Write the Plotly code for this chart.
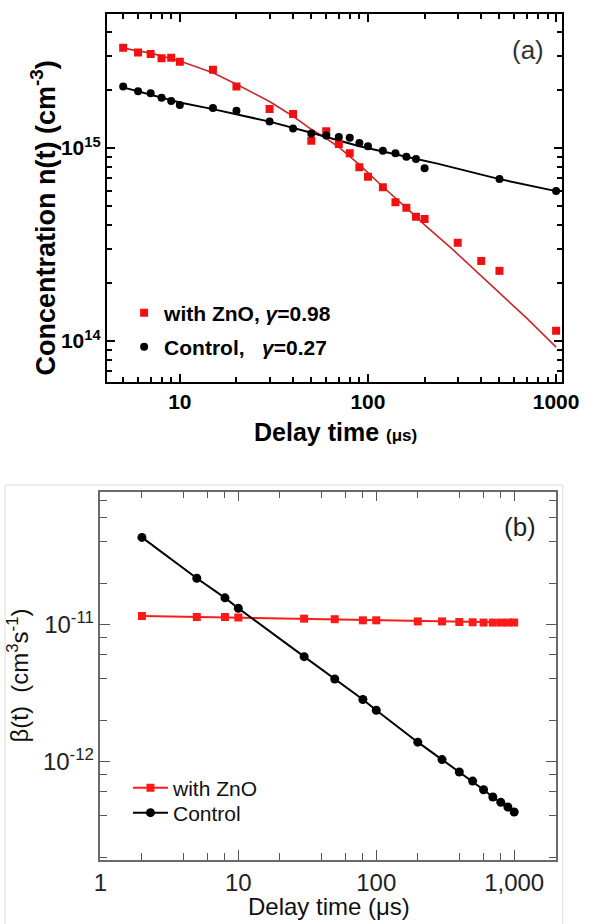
import plotly.graph_objects as go

# ---------------- Panel (a) data ----------------
t_zno_a = [5, 6, 7, 8, 9, 10, 15, 20, 30, 40, 50, 60, 70, 80, 90, 100, 120, 140, 160, 180, 200, 300, 400, 500, 1000]
n_zno_a = [3.31e15, 3.12e15, 3.07e15, 2.92e15, 2.93e15, 2.80e15, 2.54e15, 2.08e15, 1.59e15, 1.50e15, 1.09e15,
           1.22e15, 1.05e15, 9.38e14, 7.94e14, 7.10e14, 6.26e14, 5.24e14, 4.91e14, 4.41e14, 4.29e14, 3.23e14,
           2.60e14, 2.31e14, 1.13e14]
t_ctrl_a = [5, 6, 7, 8, 9, 10, 15, 20, 30, 40, 50, 60, 70, 80, 90, 100, 120, 140, 160, 180, 200, 500, 1000]
n_ctrl_a = [2.08e15, 1.97e15, 1.92e15, 1.82e15, 1.75e15, 1.67e15, 1.61e15, 1.56e15, 1.37e15, 1.26e15, 1.19e15,
            1.16e15, 1.14e15, 1.13e15, 1.06e15, 1.02e15, 9.68e14, 9.38e14, 9.01e14, 8.77e14, 7.85e14, 6.91e14,
            5.98e14]
# fitted curves
t_zno_fit = [5, 7, 10, 15, 20, 30, 40, 50, 60, 70, 90, 120, 160, 200, 280, 460, 700, 1000]
n_zno_fit = [3.29e15, 3.10e15, 2.82e15, 2.45e15, 2.14e15, 1.74e15, 1.46e15, 1.25e15, 1.12e15, 1.01e15, 8.2e14,
             6.3e14, 4.9e14, 4.0e14, 3.0e14, 1.91e14, 1.31e14, 9.3e13]
t_ctrl_fit = [5, 10, 15, 30, 50, 90, 160, 234, 500, 1000]
n_ctrl_fit = [2.06e15, 1.72e15, 1.59e15, 1.37e15, 1.20e15, 1.02e15, 9.0e14, 8.3e14, 6.9e14, 5.98e14]

# ---------------- Panel (b) data ----------------
t_b = [2, 5, 8, 10, 30, 50, 80, 100, 200, 300, 400, 500, 600, 700, 800, 900, 1000]
beta_zno = [1.15e-11, 1.13e-11, 1.13e-11, 1.12e-11, 1.10e-11, 1.09e-11, 1.07e-11, 1.07e-11, 1.05e-11, 1.05e-11,
            1.04e-11, 1.035e-11, 1.03e-11, 1.03e-11, 1.03e-11, 1.03e-11, 1.03e-11]
beta_ctrl = [4.31e-11, 2.17e-11, 1.56e-11, 1.31e-11, 5.81e-12, 3.99e-12, 2.83e-12, 2.36e-12, 1.38e-12, 1.03e-12,
             8.36e-13, 7.18e-13, 6.21e-13, 5.49e-13, 5.02e-13, 4.64e-13, 4.27e-13]

# tick labels
xa_vals = [10, 100, 1000]
xa_text = ["10", "100", "1000"]
ya_vals = [1e14, 1e15]
ya_text = ["10<sup>14</sup>", "10<sup>15</sup>"]
xb_vals = [1, 10, 100, 1000]
xb_text = ["1", "10", "100", "1,000"]
yb_vals = [1e-12, 1e-11]
yb_text = ["10<sup>-12</sup>", "10<sup>-11</sup>"]

W, H = 600, 924
FONT = "Liberation Sans, Arial, sans-serif"


def px_x(p):
    return p / W


def px_y(p):
    return 1 - p / H


def minor_vals(lo_exp, hi_exp, digits):
    return [d * 10 ** e for e in range(lo_exp, hi_exp + 1) for d in digits]


fig = go.Figure()

# panel (a)
fig.add_trace(go.Scatter(x=t_zno_fit, y=n_zno_fit, mode="lines", line=dict(color="#c9282d", width=1.6),
                         showlegend=False, xaxis="x", yaxis="y"))
fig.add_trace(go.Scatter(x=t_ctrl_fit, y=n_ctrl_fit, mode="lines", line=dict(color="black", width=2),
                         showlegend=False, xaxis="x", yaxis="y"))
fig.add_trace(go.Scatter(x=t_zno_a, y=n_zno_a, mode="markers",
                         marker=dict(symbol="square", size=8, color="#f01010"),
                         name="<b>with ZnO, <i>γ</i>=0.98</b>", legend="legend", xaxis="x", yaxis="y"))
fig.add_trace(go.Scatter(x=t_ctrl_a, y=n_ctrl_a, mode="markers",
                         marker=dict(symbol="circle", size=8, color="black"),
                         name="<b>Control,\u00a0\u00a0\u00a0<i>γ</i>=0.27</b>", legend="legend2",
                         xaxis="x", yaxis="y"))

# panel (b)
fig.add_trace(go.Scatter(x=t_b, y=beta_zno, mode="lines+markers",
                         line=dict(color="#ff1a1a", width=2),
                         marker=dict(symbol="square", size=8, color="#ff1a1a"),
                         name="with ZnO", legend="legend3", xaxis="x2", yaxis="y2"))
fig.add_trace(go.Scatter(x=t_b, y=beta_ctrl, mode="lines+markers",
                         line=dict(color="black", width=2),
                         marker=dict(symbol="circle", size=9, color="black"),
                         name="Control", legend="legend4", xaxis="x2", yaxis="y2"))

axis_a = dict(type="log", showline=True, linecolor="black", linewidth=2, mirror="ticks",
              ticks="inside", ticklen=8, tickwidth=2, tickcolor="black", showgrid=False, zeroline=False,
              tickfont=dict(family=FONT, size=21, color="black", weight="bold"))
axis_b = dict(type="log", showline=True, linecolor="#6a6a6a", linewidth=1.5, mirror="ticks",
              ticks="inside", ticklen=10, tickwidth=1.3, tickcolor="#555555", showgrid=False, zeroline=False,
              tickfont=dict(family=FONT, size=24, color="#222222"))

leg_a = dict(xanchor="left", yanchor="middle", bgcolor="rgba(0,0,0,0)",
             font=dict(family=FONT, size=21, color="black"), itemwidth=30)
leg_b = dict(xanchor="left", yanchor="middle", bgcolor="rgba(0,0,0,0)",
             font=dict(family=FONT, size=21, color="#111111"), itemwidth=35)

fig.update_layout(
    width=W, height=H, margin=dict(l=0, r=0, t=0, b=0),
    paper_bgcolor="white", plot_bgcolor="white",
    font=dict(family=FONT, color="black"),
    xaxis=dict(axis_a, domain=[px_x(104), px_x(578)], range=[0.6122, 3.0306], anchor="y",
               tickmode="array", tickvals=xa_vals, ticktext=xa_text,
               minor=dict(tickmode="array", tickvals=minor_vals(0, 2, [2, 3, 4, 5, 6, 7, 8, 9]),
                          ticks="inside", ticklen=5, tickwidth=1.5, tickcolor="black")),
    yaxis=dict(axis_a, domain=[px_y(382), px_y(14)], range=[13.788, 15.694], anchor="x",
               tickmode="array", tickvals=ya_vals, ticktext=ya_text,
               minor=dict(tickmode="array", tickvals=minor_vals(13, 15, [2, 3, 4, 5, 6, 7, 8, 9]),
                          ticks="inside", ticklen=5, tickwidth=1.5, tickcolor="black")),
    xaxis2=dict(axis_b, domain=[px_x(97.3), px_x(571.7)], range=[0, 3.302], anchor="y2",
                tickmode="array", tickvals=xb_vals, ticktext=xb_text,
                minor=dict(tickmode="array", tickvals=minor_vals(0, 2, [2, 4, 6, 8]),
                           ticks="inside", ticklen=7, tickwidth=1.3, tickcolor="#555555")),
    yaxis2=dict(axis_b, domain=[px_y(860), px_y(491.7)], range=[-12.72, -10.032], anchor="x2",
                tickmode="array", tickvals=yb_vals, ticktext=yb_text,
                minor=dict(tickmode="array", tickvals=minor_vals(-13, -11, [2, 4, 6, 8]),
                           ticks="inside", ticklen=7, tickwidth=1.3, tickcolor="#555555")),
    legend=dict(leg_a, x=px_x(122), y=px_y(313)),
    legend2=dict(leg_a, x=px_x(122), y=px_y(347)),
    legend3=dict(leg_b, x=px_x(126), y=px_y(788)),
    legend4=dict(leg_b, x=px_x(126), y=px_y(813)),
    shapes=[dict(type="rect", xref="paper", yref="paper", x0=px_x(-2), x1=px_x(579), y0=px_y(930), y1=px_y(485),
                 line=dict(color="#dcdcdc", width=1), layer="below")],
    annotations=[
        dict(text="(a)", x=px_x(543), y=px_y(50), xref="paper", yref="paper", showarrow=False,
             xanchor="center", yanchor="middle", font=dict(family=FONT, size=26, color="#333333")),
        dict(text="(b)", x=px_x(534), y=px_y(527), xref="paper", yref="paper", showarrow=False,
             xanchor="center", yanchor="middle", font=dict(family=FONT, size=26, color="#222222")),
        dict(text="<b>Concentration n(t) (cm<sup>-3</sup>)</b>", x=px_x(38), y=px_y(218), xref="paper",
             yref="paper", showarrow=False, textangle=-90, xanchor="center", yanchor="middle",
             font=dict(family=FONT, size=27, color="black")),
        dict(text="<b>Delay time</b> <span style='font-size:17px'><b>(μs)</b></span>", x=px_x(342), y=px_y(432),
             xref="paper", yref="paper", showarrow=False, xanchor="center", yanchor="middle",
             font=dict(family=FONT, size=25, color="black")),
        dict(text="β(t)  (cm<sup>3</sup>s<sup>-1</sup>)", x=px_x(11), y=px_y(676), xref="paper",
             yref="paper", showarrow=False, textangle=-90, xanchor="center", yanchor="middle",
             font=dict(family=FONT, size=24, color="#111111")),
        dict(text="Delay time (μs)", x=px_x(335), y=px_y(906), xref="paper", yref="paper", showarrow=False,
             xanchor="center", yanchor="middle", font=dict(family=FONT, size=24, color="#111111")),
    ],
)

fig.write_html("out.html", config={"displayModeBar": False},
               post_script="document.body.style.margin='0';document.documentElement.style.overflow='hidden';")
